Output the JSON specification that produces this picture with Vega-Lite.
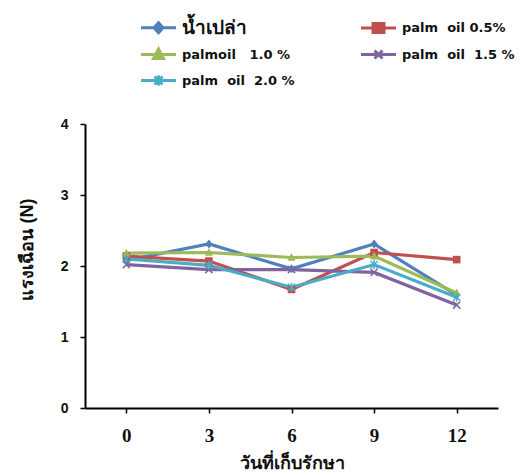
{
  "$schema": "https://vega.github.io/schema/vega-lite/v6.json",
  "width": 413,
  "height": 284,
  "autosize": {"type": "none"},
  "padding": {"left": 85, "top": 124, "right": 34, "bottom": 68},
  "background": "white",
  "config": {
    "view": {"stroke": null},
    "font": "Liberation Sans"
  },
  "data": {
    "values": [
      {"day": 0, "series": "น้ำเปล่า", "force": 2.08},
      {"day": 3, "series": "น้ำเปล่า", "force": 2.31},
      {"day": 6, "series": "น้ำเปล่า", "force": 1.96},
      {"day": 9, "series": "น้ำเปล่า", "force": 2.31},
      {"day": 12, "series": "น้ำเปล่า", "force": 1.59},
      {"day": 0, "series": "palm\u00a0\u00a0oil 0.5%", "force": 2.14},
      {"day": 3, "series": "palm\u00a0\u00a0oil 0.5%", "force": 2.07},
      {"day": 6, "series": "palm\u00a0\u00a0oil 0.5%", "force": 1.67},
      {"day": 9, "series": "palm\u00a0\u00a0oil 0.5%", "force": 2.19},
      {"day": 12, "series": "palm\u00a0\u00a0oil 0.5%", "force": 2.09},
      {"day": 0, "series": "palmoil\u00a0\u00a0\u00a01.0 %", "force": 2.18},
      {"day": 3, "series": "palmoil\u00a0\u00a0\u00a01.0 %", "force": 2.19},
      {"day": 6, "series": "palmoil\u00a0\u00a0\u00a01.0 %", "force": 2.12},
      {"day": 9, "series": "palmoil\u00a0\u00a0\u00a01.0 %", "force": 2.14},
      {"day": 12, "series": "palmoil\u00a0\u00a0\u00a01.0 %", "force": 1.62},
      {"day": 0, "series": "palm\u00a0\u00a0oil\u00a0\u00a01.5 %", "force": 2.02},
      {"day": 3, "series": "palm\u00a0\u00a0oil\u00a0\u00a01.5 %", "force": 1.95},
      {"day": 6, "series": "palm\u00a0\u00a0oil\u00a0\u00a01.5 %", "force": 1.95},
      {"day": 9, "series": "palm\u00a0\u00a0oil\u00a0\u00a01.5 %", "force": 1.91},
      {"day": 12, "series": "palm\u00a0\u00a0oil\u00a0\u00a01.5 %", "force": 1.45},
      {"day": 0, "series": "palm\u00a0\u00a0oil\u00a0\u00a02.0 %", "force": 2.10},
      {"day": 3, "series": "palm\u00a0\u00a0oil\u00a0\u00a02.0 %", "force": 2.01},
      {"day": 6, "series": "palm\u00a0\u00a0oil\u00a0\u00a02.0 %", "force": 1.70},
      {"day": 9, "series": "palm\u00a0\u00a0oil\u00a0\u00a02.0 %", "force": 2.02},
      {"day": 12, "series": "palm\u00a0\u00a0oil\u00a0\u00a02.0 %", "force": 1.56}
    ]
  },
  "encoding": {
    "x": {
      "field": "day",
      "type": "ordinal",
      "sort": [0, 3, 6, 9, 12],
      "scale": {"type": "point", "padding": 0.5},
      "axis": {
        "title": "วันที่เก็บรักษา",
        "titleFont": "Liberation Sans",
        "titleFontSize": 18,
        "titleFontWeight": "bold",
        "titleColor": "#111111",
        "titlePadding": 9,
        "labelAngle": 0,
        "labelFont": "Liberation Serif",
        "labelFontSize": 19,
        "labelFontWeight": "bold",
        "labelColor": "#111111",
        "labelPadding": 13,
        "domainColor": "#000000",
        "domainWidth": 2,
        "tickColor": "#000000",
        "tickWidth": 1.5,
        "tickSize": 5,
        "grid": false
      }
    },
    "y": {
      "field": "force",
      "type": "quantitative",
      "scale": {"domain": [0, 4], "nice": false},
      "axis": {
        "title": "แรงเฉือน (N)",
        "titleFontSize": 18,
        "titleFontWeight": "bold",
        "titleColor": "#111111",
        "titlePadding": 24,
        "titleY": 125,
        "values": [0, 1, 2, 3, 4],
        "format": "d",
        "labelFontSize": 14,
        "labelFontWeight": "bold",
        "labelColor": "#111111",
        "labelPadding": 12,
        "domainColor": "#000000",
        "domainWidth": 2,
        "tickColor": "#000000",
        "tickWidth": 1.5,
        "tickSize": 5,
        "grid": false
      }
    },
    "color": {
      "field": "series",
      "type": "nominal",
      "sort": ["น้ำเปล่า", "palm\u00a0\u00a0oil 0.5%", "palmoil\u00a0\u00a0\u00a01.0 %", "palm\u00a0\u00a0oil\u00a0\u00a01.5 %", "palm\u00a0\u00a0oil\u00a0\u00a02.0 %"],
      "scale": {
        "domain": ["น้ำเปล่า", "palm\u00a0\u00a0oil 0.5%", "palmoil\u00a0\u00a0\u00a01.0 %", "palm\u00a0\u00a0oil\u00a0\u00a01.5 %", "palm\u00a0\u00a0oil\u00a0\u00a02.0 %"],
        "range": ["#4F81BD", "#C0504D", "#9BBB59", "#8064A2", "#4BACC6"]
      },
      "legend": {
        "title": null,
        "orient": "none",
        "legendX": 62,
        "legendY": -108,
        "columns": 2,
        "direction": "horizontal",
        "columnPadding": 60,
        "rowPadding": 4,
        "symbolSize": 400,
        "symbolStrokeWidth": 3,
        "labelOffset": 12,
        "labelFont": "DejaVu Sans",
        "labelFontSize": 13,
        "labelFontWeight": "bold",
        "labelColor": "#111111",
        "labelLimit": 250,
        "encode": {
          "labels": {
            "update": {
              "fontSize": {"signal": "datum.value === 'น้ำเปล่า' ? 19 : 13"}
            }
          },
          "symbols": {
            "update": {
              "shape": {"signal": "datum.value === 'น้ำเปล่า' ? 'M-1.75,0H1.75M0,-0.5L0.45,0L0,0.5L-0.45,0Z' : datum.value === 'palm\u00a0\u00a0oil 0.5%' ? 'M-1.75,0H1.75M-0.55,-0.45H0.55V0.45H-0.55Z' : datum.value === 'palmoil\u00a0\u00a0\u00a01.0 %' ? 'M-1.75,0H1.75M0,-0.55L0.5,0.4L-0.5,0.4Z' : datum.value === 'palm\u00a0\u00a0oil\u00a0\u00a01.5 %' ? 'M-1.75,0H1.75M-0.4,-0.4L0.4,0.4M-0.4,0.4L0.4,-0.4' : 'M-1.75,0H1.75M-0.4,-0.4L0.4,0.4M-0.4,0.4L0.4,-0.4M0,-0.5V0.5'"},
              "fill": {"scale": "color", "field": "value"},
              "stroke": {"scale": "color", "field": "value"},
              "strokeWidth": {"value": 3},
              "opacity": {"value": 1}
            }
          }
        }
      }
    }
  },
  "layer": [
    {"mark": {"type": "line", "strokeWidth": 3.2}},
    {
      "transform": [{"filter": "datum.series === 'น้ำเปล่า'"}],
      "mark": {"type": "point", "filled": true, "opacity": 1, "size": 80, "shape": "M0,-1L0.8,0L0,1L-0.8,0Z"}
    },
    {
      "transform": [{"filter": "datum.series === 'palm\u00a0\u00a0oil 0.5%'"}],
      "mark": {"type": "point", "filled": true, "opacity": 1, "size": 90, "shape": "M-0.8,-0.8H0.8V0.8H-0.8Z"}
    },
    {
      "transform": [{"filter": "datum.series === 'palmoil\u00a0\u00a0\u00a01.0 %'"}],
      "mark": {"type": "point", "filled": true, "opacity": 1, "size": 80, "shape": "M0,-1L0.9,0.75L-0.9,0.75Z"}
    },
    {
      "transform": [{"filter": "datum.series === 'palm\u00a0\u00a0oil\u00a0\u00a01.5 %'"}],
      "mark": {"type": "point", "filled": false, "opacity": 1, "size": 80, "strokeWidth": 1.5, "shape": "M-0.8,-0.8L0.8,0.8M-0.8,0.8L0.8,-0.8"}
    },
    {
      "transform": [{"filter": "datum.series === 'palm\u00a0\u00a0oil\u00a0\u00a02.0 %'"}],
      "mark": {"type": "point", "filled": false, "opacity": 1, "size": 80, "strokeWidth": 1.5, "shape": "M-0.8,-0.8L0.8,0.8M-0.8,0.8L0.8,-0.8M0,-1V1"}
    }
  ]
}
